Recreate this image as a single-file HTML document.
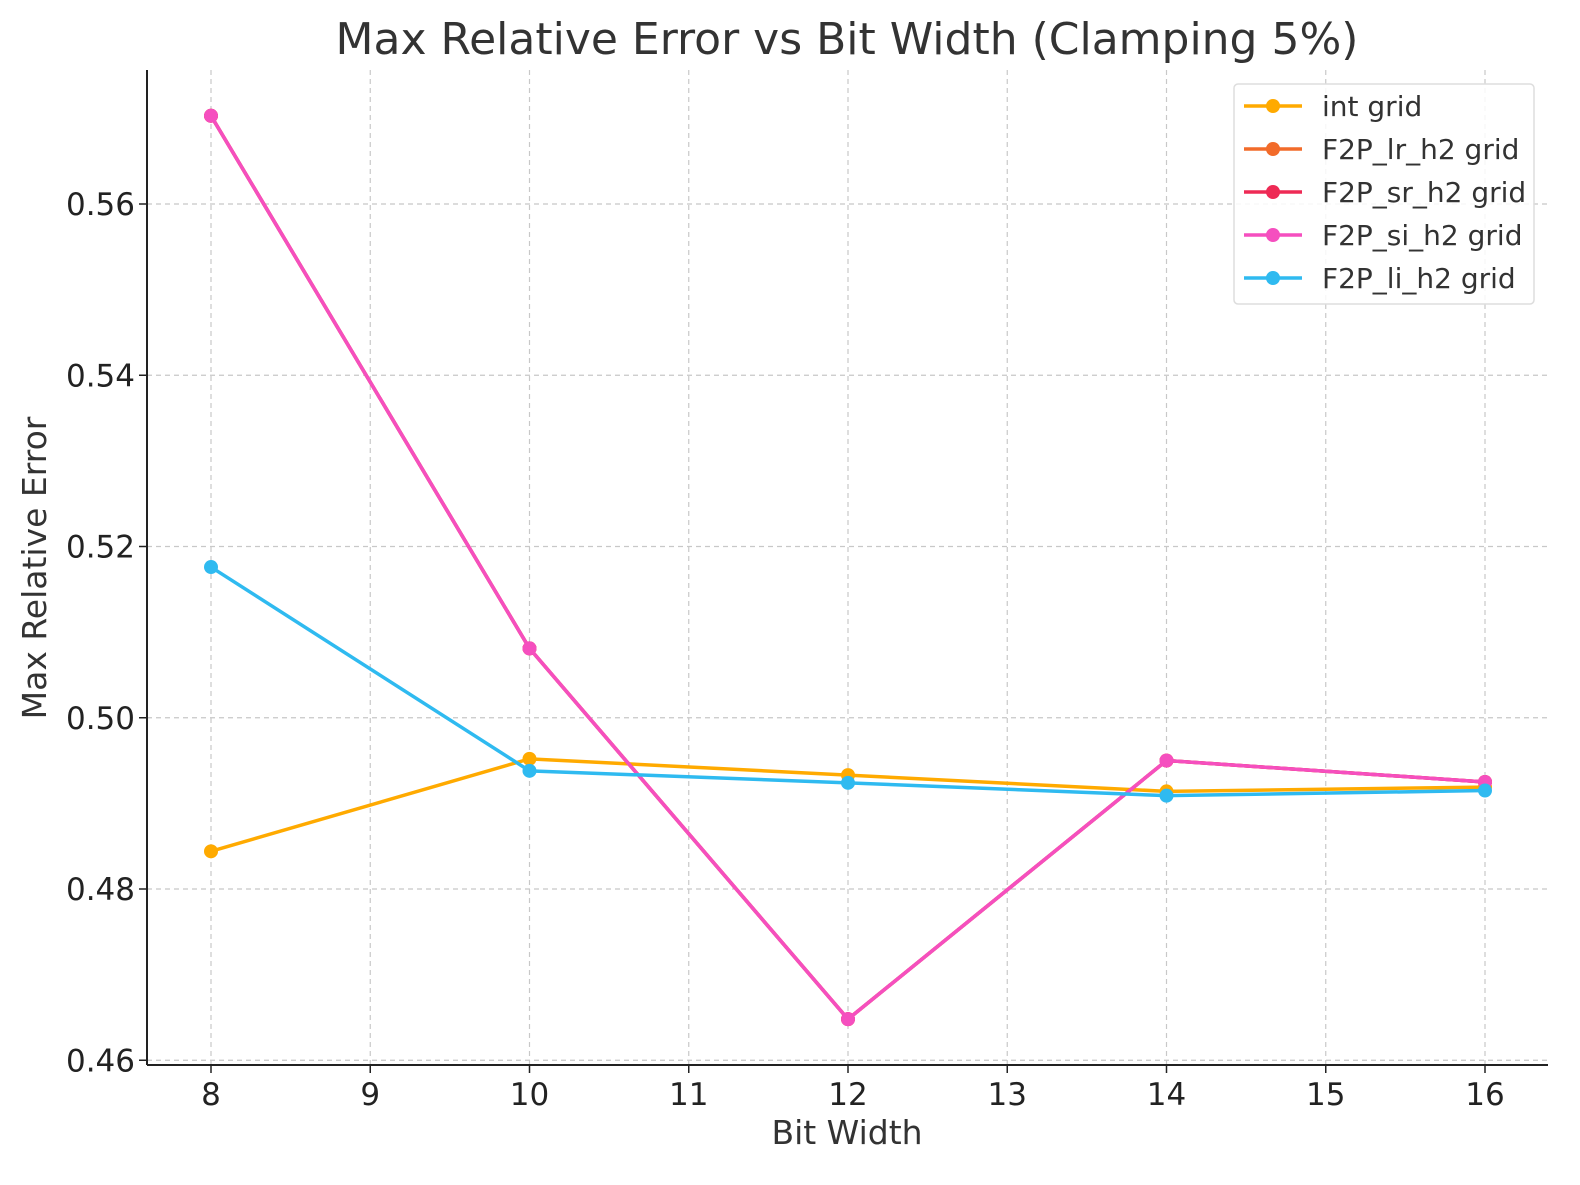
<!DOCTYPE html>
<html><head><meta charset="utf-8"><style>
body{margin:0;background:#fff;font-family:"Liberation Sans","DejaVu Sans",sans-serif}
svg text{font-family:"DejaVu Sans","Liberation Sans",sans-serif}
</style></head><body>
<svg id="chart" width="1580" height="1180" viewBox="0 0 1580 1180">
<text x="847" y="54" font-size="44" text-anchor="middle" fill="#333">Max Relative Error vs Bit Width (Clamping 5%)</text>
<g id="grid"></g><g id="axes"></g><g id="series"></g><g id="legend"></g>
<text x="847" y="1144" font-size="33" text-anchor="middle" fill="#333">Bit Width</text>
<text transform="translate(46,568) rotate(-90)" font-size="33" text-anchor="middle" fill="#333">Max Relative Error</text>
</svg>
<script>
const categories=[8,10,12,14,16];
const intGrid=[0.4844,0.4952,0.4933,0.4914,0.4919];
const lrGrid=[0.5703,0.5081,0.4648,0.4950,0.4925];
const srGrid=[0.5703,0.5081,0.4648,0.4950,0.4925];
const siGrid=[0.5703,0.5081,0.4648,0.4950,0.4925];
const liGrid=[0.5176,0.4938,0.4924,0.4909,0.4915];
const xTicks=[8,9,10,11,12,13,14,15,16];
const yTicks=[0.46,0.48,0.50,0.52,0.54,0.56];
const seriesNames=["int grid","F2P_lr_h2 grid","F2P_sr_h2 grid","F2P_si_h2 grid","F2P_li_h2 grid"];
const seriesColors=["#ffaa00","#f26b2a","#ee2a55","#f54fbf","#2fbaf0"];
const seriesData=[intGrid,lrGrid,srGrid,siGrid,liGrid];

const L=147,R=1548,T=70,B=1065;
const xs=v=>211+(v-8)*159.25;
const ys=v=>204+(0.56-v)*8562.5;
const NS="http://www.w3.org/2000/svg";
function mk(t,a,p){const e=document.createElementNS(NS,t);for(const k in a)e.setAttribute(k,a[k]);p.appendChild(e);return e;}
const grid=document.getElementById('grid'),axes=document.getElementById('axes'),ser=document.getElementById('series'),leg=document.getElementById('legend');
xTicks.forEach(v=>{const x=xs(v);
 const g=mk('line',{x1:x,x2:x,y1:T,y2:B,stroke:'#c8c8c8','stroke-width':1.2,'stroke-dasharray':'5,4'},grid);
 
 
 mk('line',{x1:x,x2:x,y1:B,y2:B+8,stroke:'#222','stroke-width':1.5},axes);
 const t=mk('text',{x:x,y:B+40,'font-size':31,'text-anchor':'middle',fill:'#222'},axes);t.textContent=v;
 
 
});
yTicks.forEach(v=>{const y=ys(v);
 const g=mk('line',{x1:L,x2:R,y1:y,y2:y,stroke:'#c8c8c8','stroke-width':1.2,'stroke-dasharray':'5,4'},grid);
 
 
 mk('line',{x1:L-8,x2:L,y1:y,y2:y,stroke:'#222','stroke-width':1.5},axes);
 const t=mk('text',{x:L-12,y:y+11,'font-size':31,'text-anchor':'end',fill:'#222'},axes);t.textContent=v.toFixed(2);
 
 
});
mk('line',{x1:L,x2:L,y1:T,y2:B,stroke:'#222','stroke-width':2},axes);
mk('line',{x1:L,x2:R,y1:B,y2:B,stroke:'#222','stroke-width':2},axes);
seriesData.forEach((d,i)=>{
 const pts=d.map((v,j)=>xs(categories[j])+','+ys(v)).join(' ');
 const pl=mk('polyline',{points:pts,fill:'none',stroke:seriesColors[i],'stroke-width':3.5},ser);
 
 
 d.forEach((v,j)=>{const c=mk('circle',{cx:xs(categories[j]),cy:ys(v),r:7,fill:seriesColors[i]},ser);
  
  });
});
const lb=mk('rect',{x:1234,y:84,width:300,height:220,rx:4,fill:'#fff',stroke:'#ddd','stroke-width':1.5,'fill-opacity':0.85},leg);


seriesNames.forEach((n,i)=>{const y=106+i*43;
 const g=mk('g',{},leg);
 
 
 mk('line',{x1:1244,x2:1302,y1:y,y2:y,stroke:seriesColors[i],'stroke-width':3.5},g);
 mk('circle',{cx:1273,cy:y,r:7,fill:seriesColors[i]},g);
 const t=mk('text',{x:1322,y:y+10,'font-size':28,fill:'#333'},g);t.textContent=n;
});
</script>
</body></html>
